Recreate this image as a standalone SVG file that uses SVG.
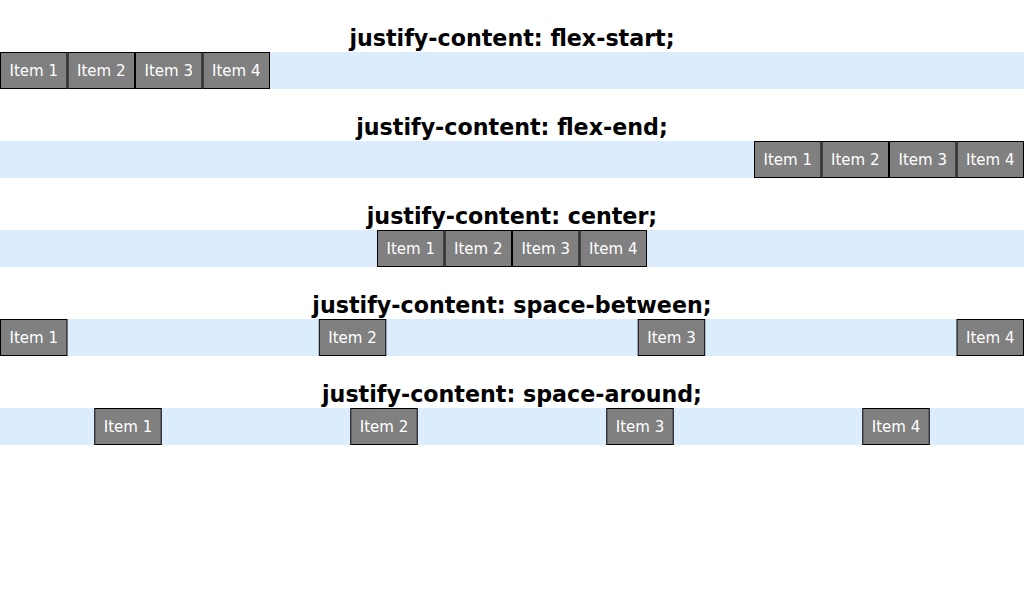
<svg xmlns="http://www.w3.org/2000/svg" width="1024" height="600" viewBox="0 0 1024 600">
<style>
.bg{fill:#ffffff}
.bar{fill:#dbecfd}
.title{font-family:"DejaVu Sans",Verdana,sans-serif;font-weight:bold;font-size:22.2px;fill:#000;text-anchor:middle}
.item rect{fill:#808080;stroke:#000;stroke-width:1}
.item text{font-family:"DejaVu Sans",Verdana,sans-serif;font-size:15px;fill:#fff;text-anchor:middle}
</style>
<rect class="bg" x="0" y="0" width="1024" height="600"/>

<g id="row-flex-start">
<text class="title" x="512" y="46">justify-content: flex-start;</text>
<rect class="bar" x="0" y="52" width="1024" height="37"/>
<g id="fs-item1" class="item" transform="translate(0,52)"><rect x="0.5" y="0.5" width="66.5" height="36"/><text x="33.75" y="23.5">Item 1</text></g>
<g id="fs-item2" class="item" transform="translate(67.5,52)"><rect x="0.5" y="0.5" width="66.5" height="36"/><text x="33.75" y="23.5">Item 2</text></g>
<g id="fs-item3" class="item" transform="translate(135,52)"><rect x="0.5" y="0.5" width="66.5" height="36"/><text x="33.75" y="23.5">Item 3</text></g>
<g id="fs-item4" class="item" transform="translate(202.5,52)"><rect x="0.5" y="0.5" width="66.5" height="36"/><text x="33.75" y="23.5">Item 4</text></g>
</g>

<g id="row-flex-end">
<text class="title" x="512" y="135">justify-content: flex-end;</text>
<rect class="bar" x="0" y="141" width="1024" height="37"/>
<g id="fe-item1" class="item" transform="translate(754,141)"><rect x="0.5" y="0.5" width="66.5" height="36"/><text x="33.75" y="23.5">Item 1</text></g>
<g id="fe-item2" class="item" transform="translate(821.5,141)"><rect x="0.5" y="0.5" width="66.5" height="36"/><text x="33.75" y="23.5">Item 2</text></g>
<g id="fe-item3" class="item" transform="translate(889,141)"><rect x="0.5" y="0.5" width="66.5" height="36"/><text x="33.75" y="23.5">Item 3</text></g>
<g id="fe-item4" class="item" transform="translate(956.5,141)"><rect x="0.5" y="0.5" width="66.5" height="36"/><text x="33.75" y="23.5">Item 4</text></g>
</g>

<g id="row-center">
<text class="title" x="512" y="224">justify-content: center;</text>
<rect class="bar" x="0" y="230" width="1024" height="37"/>
<g id="c-item1" class="item" transform="translate(377,230)"><rect x="0.5" y="0.5" width="66.5" height="36"/><text x="33.75" y="23.5">Item 1</text></g>
<g id="c-item2" class="item" transform="translate(444.5,230)"><rect x="0.5" y="0.5" width="66.5" height="36"/><text x="33.75" y="23.5">Item 2</text></g>
<g id="c-item3" class="item" transform="translate(512,230)"><rect x="0.5" y="0.5" width="66.5" height="36"/><text x="33.75" y="23.5">Item 3</text></g>
<g id="c-item4" class="item" transform="translate(579.5,230)"><rect x="0.5" y="0.5" width="66.5" height="36"/><text x="33.75" y="23.5">Item 4</text></g>
</g>

<g id="row-space-between">
<text class="title" x="512" y="313">justify-content: space-between;</text>
<rect class="bar" x="0" y="319" width="1024" height="37"/>
<g id="sb-item1" class="item" transform="translate(0,319)"><rect x="0.5" y="0.5" width="66.5" height="36"/><text x="33.75" y="23.5">Item 1</text></g>
<g id="sb-item2" class="item" transform="translate(318.8,319)"><rect x="0.5" y="0.5" width="66.5" height="36"/><text x="33.75" y="23.5">Item 2</text></g>
<g id="sb-item3" class="item" transform="translate(637.7,319)"><rect x="0.5" y="0.5" width="66.5" height="36"/><text x="33.75" y="23.5">Item 3</text></g>
<g id="sb-item4" class="item" transform="translate(956.5,319)"><rect x="0.5" y="0.5" width="66.5" height="36"/><text x="33.75" y="23.5">Item 4</text></g>
</g>

<g id="row-space-around">
<text class="title" x="512" y="402">justify-content: space-around;</text>
<rect class="bar" x="0" y="408" width="1024" height="37"/>
<g id="sa-item1" class="item" transform="translate(94.25,408)"><rect x="0.5" y="0.5" width="66.5" height="36"/><text x="33.75" y="23.5">Item 1</text></g>
<g id="sa-item2" class="item" transform="translate(350.25,408)"><rect x="0.5" y="0.5" width="66.5" height="36"/><text x="33.75" y="23.5">Item 2</text></g>
<g id="sa-item3" class="item" transform="translate(606.25,408)"><rect x="0.5" y="0.5" width="66.5" height="36"/><text x="33.75" y="23.5">Item 3</text></g>
<g id="sa-item4" class="item" transform="translate(862.25,408)"><rect x="0.5" y="0.5" width="66.5" height="36"/><text x="33.75" y="23.5">Item 4</text></g>
</g>

<g id="connectors"></g>
</svg>
